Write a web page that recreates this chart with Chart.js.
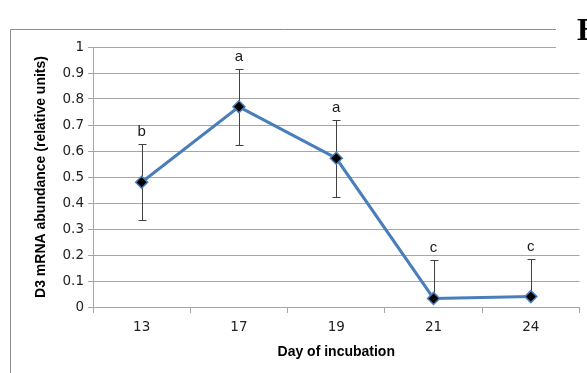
<!DOCTYPE html>
<html>
<head>
<meta charset="utf-8">
<script src="https://cdn.jsdelivr.net/npm/chart.js@4/dist/chart.umd.min.js"></script>
<style>
  html, body { margin: 0; padding: 0; background: #fff; }
  #wrap { width: 587px; height: 373px; position: relative; }
</style>
</head>
<body>
<div id="wrap"><canvas id="myChart" width="587" height="373"></canvas></div>
<script>
const days = ["13", "17", "19", "21", "24"];
const abundance = [0.48, 0.77, 0.572, 0.033, 0.04];
const errPlus = [0.147, 0.147, 0.146, 0.147, 0.146];
const errMinus = [0.147, 0.147, 0.148, 0, 0];
const groupLetters = ["b", "a", "a", "c", "c"];
const yTickLabels = ["0", "0.1", "0.2", "0.3", "0.4", "0.5", "0.6", "0.7", "0.8", "0.9", "1"];

const gridColor = "#a6a6a6";
const frameColor = "#8c8c8c";

// error bars behind the markers
const errorBars = {
    id: "errorBars",
    beforeDatasetsDraw(chart) {
        const ctx = chart.ctx;
        const y = chart.scales.y;
        const meta = chart.getDatasetMeta(0);
        ctx.save();
        ctx.strokeStyle = "#404040";
        ctx.lineWidth = 1;
        meta.data.forEach((pt, i) => {
            const x = Math.round(pt.x) + 0.5;
            const top = Math.round(y.getPixelForValue(abundance[i] + errPlus[i])) + 0.5;
            const bot = Math.round(y.getPixelForValue(abundance[i] - errMinus[i])) + 0.5;
            ctx.beginPath();
            ctx.moveTo(x, top);
            ctx.lineTo(x, bot);
            ctx.moveTo(x - 4, top);
            ctx.lineTo(x + 4, top);
            if (errMinus[i] > 0) {
                ctx.moveTo(x - 4, bot);
                ctx.lineTo(x + 4, bot);
            }
            ctx.stroke();
        });
        ctx.restore();
    }
};

// letters, outer frame and panel label
const extras = {
    id: "extras",
    afterDraw(chart) {
        const ctx = chart.ctx;
        const y = chart.scales.y;
        const meta = chart.getDatasetMeta(0);
        ctx.save();
        ctx.fillStyle = "#1a1a1a";
        ctx.font = "15px 'Liberation Sans', Arial, sans-serif";
        ctx.textAlign = "center";
        ctx.textBaseline = "alphabetic";
        meta.data.forEach((pt, i) => {
            const top = y.getPixelForValue(abundance[i] + errPlus[i]);
            ctx.fillText(groupLetters[i], pt.x, top - 8);
        });

        ctx.strokeStyle = frameColor;
        ctx.lineWidth = 1;
        ctx.beginPath();
        ctx.moveTo(10.5, 373);
        ctx.lineTo(10.5, 29.5);
        ctx.lineTo(556, 29.5);
        ctx.stroke();

        ctx.fillStyle = "#fff";
        ctx.fillRect(556, 0, 31, 60);
        ctx.fillStyle = "#000";
        ctx.textAlign = "left";
        ctx.font = "bold 32px 'Liberation Serif', 'Times New Roman', serif";
        ctx.fillText("B", 577, 40);
        ctx.restore();
    }
};

const ctx = document.getElementById("myChart").getContext("2d");
const myChart = new Chart(ctx, {
    type: "line",
    data: {
        labels: days,
        datasets: [{
            data: abundance,
            borderColor: "#4a7ebb",
            borderWidth: 3,
            pointStyle: "rectRot",
            pointRadius: 6,
            pointBackgroundColor: "#000",
            pointBorderColor: "#4a7ebb",
            pointBorderWidth: 1.5,
            tension: 0
        }]
    },
    options: {
        responsive: false,
        animation: false,
        events: [],
        layout: { padding: { left: 10, top: 47, right: 7, bottom: 0 } },
        plugins: {
            legend: { display: false },
            tooltip: { enabled: false }
        },
        scales: {
            x: {
                offset: true,
                afterFit: (scale) => { scale.height = 66; },
                grid: {
                    offset: true,
                    drawOnChartArea: false,
                    color: gridColor,
                    tickLength: 6
                },
                border: { color: gridColor },
                ticks: {
                    padding: 6,
                    color: "#222",
                    font: { family: "'DejaVu Sans', sans-serif", size: 13.5 }
                },
                title: {
                    display: true,
                    text: "Day of incubation",
                    color: "#000",
                    font: { family: "'Liberation Sans', Arial, sans-serif", size: 14, weight: "bold" },
                    padding: { top: 0, bottom: 12.5 }
                }
            },
            y: {
                min: 0,
                max: 1,
                afterFit: (scale) => { scale.width = 83; },
                grid: { color: gridColor, tickLength: 5 },
                border: { color: gridColor },
                ticks: {
                    stepSize: 0.1,
                    padding: 4,
                    color: "#222",
                    font: { family: "'DejaVu Sans', sans-serif", size: 13.5 },
                    callback: (v, i) => yTickLabels[i]
                },
                title: {
                    display: true,
                    text: "D3 mRNA abundance (relative units)",
                    color: "#000",
                    font: { family: "'Liberation Sans', Arial, sans-serif", size: 14, weight: "bold" },
                    padding: { top: 22.5, bottom: 0 }
                }
            }
        }
    },
    plugins: [errorBars, extras]
});
</script>
</body>
</html>
